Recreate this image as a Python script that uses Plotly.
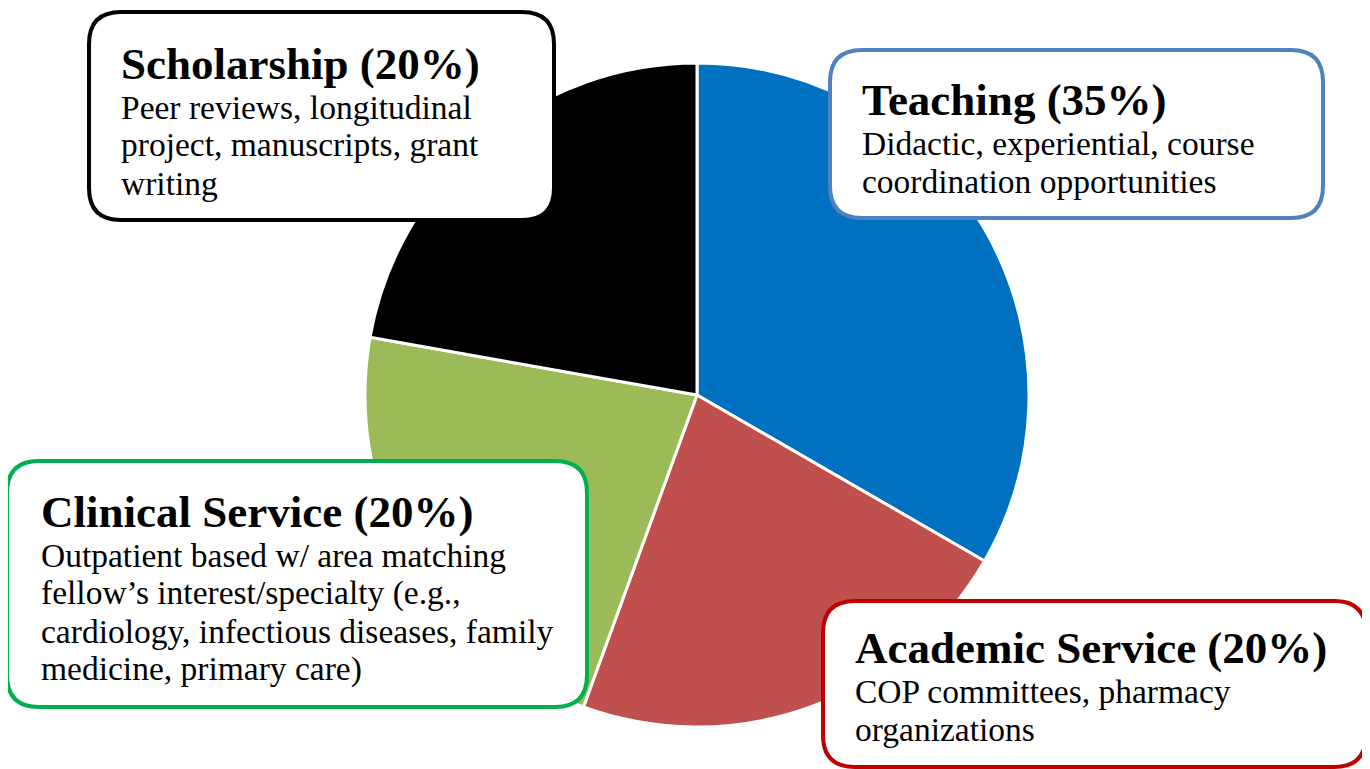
import plotly.graph_objects as go

W, H = 1370, 769
OFF = 8  # page body margin

# ---- data ----
categories = ["Teaching", "Academic Service", "Clinical Service", "Scholarship"]
values = [30, 20, 20, 20]  # slice sizes as drawn
slice_colors = ["#0070C0", "#C0504D", "#9BBB59", "#000000"]
titles = ["Teaching (35%)", "Academic Service (20%)", "Clinical Service (20%)", "Scholarship (20%)"]
descriptions = [
    ["Didactic, experiential, course", "coordination opportunities"],
    ["COP committees, pharmacy", "organizations"],
    ["Outpatient based w/ area matching", "fellow\u2019s interest/specialty (e.g.,",
     "cardiology, infectious diseases, family", "medicine, primary care)"],
    ["Peer reviews, longitudinal", "project, manuscripts, grant", "writing"],
]
box_colors = ["#4F81BD", "#C00000", "#00B050", "#000000"]

# ---- layout helpers (pixel boxes) ----
boxes = [  # x0, y0, x1, y1 (px, from top-left of screenshot)
    (830, 50, 1323, 218),
    (823, 601, 1366, 767),
    (7, 461, 587, 707),
    (89, 12, 554, 220),
]
text_left = [860, 853, 39, 119]
title_y = [100, 648, 512, 64]
line_gap = 38
first_body_offset = 43

def px(x):
    return (x - OFF) / W

def py(y):
    return 1 - (y - OFF) / H

def rounded_path(x0, y0, x1, y1, r):
    pts = [
        f"M {px(x0 + r)},{py(y0)}",
        f"L {px(x1 - r)},{py(y0)}",
        f"Q {px(x1)},{py(y0)} {px(x1)},{py(y0 + r)}",
        f"L {px(x1)},{py(y1 - r)}",
        f"Q {px(x1)},{py(y1)} {px(x1 - r)},{py(y1)}",
        f"L {px(x0 + r)},{py(y1)}",
        f"Q {px(x0)},{py(y1)} {px(x0)},{py(y1 - r)}",
        f"L {px(x0)},{py(y0 + r)}",
        f"Q {px(x0)},{py(y0)} {px(x0 + r)},{py(y0)}",
        "Z",
    ]
    return " ".join(pts)

cx, cy, R = 697, 395, 332

fig = go.Figure()
fig.add_trace(go.Pie(
    labels=categories,
    values=values,
    sort=False,
    direction="clockwise",
    rotation=0,
    marker=dict(colors=slice_colors, line=dict(color="white", width=3)),
    textinfo="none",
    hoverinfo="label+percent",
    showlegend=False,
    domain=dict(x=[px(cx - R), px(cx + R)], y=[py(cy + R), py(cy - R)]),
))

shapes = []
annotations = []
for i in range(len(categories)):
    x0, y0, x1, y1 = boxes[i]
    shapes.append(dict(
        type="path", xref="paper", yref="paper",
        path=rounded_path(x0, y0, x1, y1, 32),
        fillcolor="white",
        line=dict(color=box_colors[i], width=4),
        layer="above",
    ))
    annotations.append(dict(
        x=px(text_left[i]), y=py(title_y[i]), xref="paper", yref="paper",
        xanchor="left", yanchor="middle", showarrow=False,
        text=f"<b>{titles[i]}</b>",
        font=dict(family="Liberation Serif", size=45, color="black"),
    ))
    for j, line in enumerate(descriptions[i]):
        annotations.append(dict(
            x=px(text_left[i]), y=py(title_y[i] + first_body_offset + j * line_gap),
            xref="paper", yref="paper",
            xanchor="left", yanchor="middle", showarrow=False,
            text=line,
            font=dict(family="Liberation Serif", size=33.5, color="black"),
        ))

fig.update_layout(
    width=W, height=H,
    margin=dict(l=0, r=0, t=0, b=0),
    paper_bgcolor="white",
    plot_bgcolor="white",
    shapes=shapes,
    annotations=annotations,
)

fig.write_html("out.html")
